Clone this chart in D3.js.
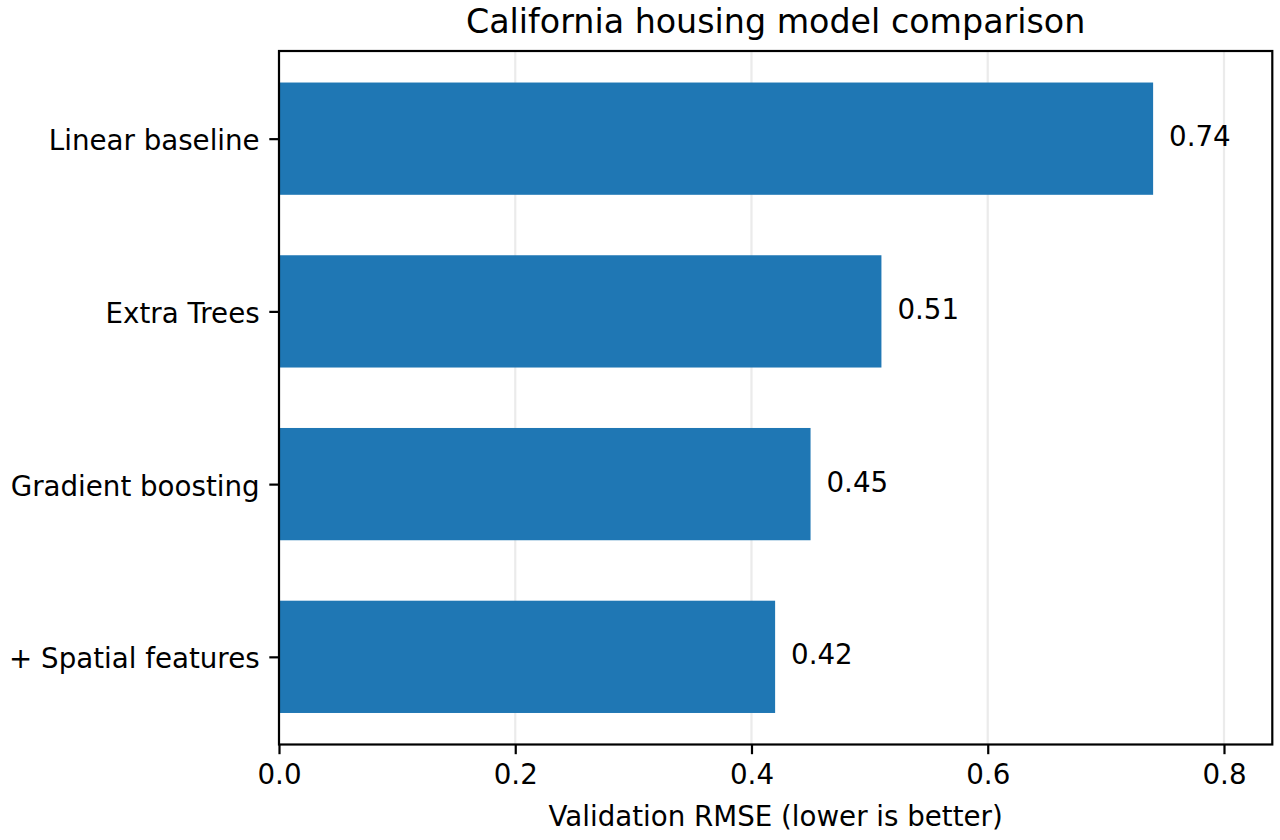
<!DOCTYPE html>
<html><head><meta charset="utf-8">
<script src="https://cdn.jsdelivr.net/npm/d3@7"></script>
<style>body{margin:0;background:#fff;} text{font-family:"DejaVu Sans",sans-serif;fill:#000;}</style>
</head><body>
<svg id="chart" width="1280" height="840"></svg>
<script>
const categories = ["Linear baseline","Extra Trees","Gradient boosting","+ Spatial features"];
const rmse = [0.74, 0.51, 0.45, 0.42];
const xTicks = [0.0, 0.2, 0.4, 0.6, 0.8];
const title = "California housing model comparison";
const xLabel = "Validation RMSE (lower is better)";

const W = 1280, H = 840;
const m = {left:279, top:51, right:1272.3, bottom:744.5};
const svg = d3.select("#chart");
const x = d3.scaleLinear().domain([0, 0.8409]).range([m.left, m.right]);
const barH = 0.65;
const y = d3.scaleLinear().domain([-0.5075, categories.length - 1 + 0.5075]).range([m.top, m.bottom]);

// grid
svg.append("g").selectAll("line").data(xTicks).join("line")
  .attr("x1", d=>x(d)).attr("x2", d=>x(d)).attr("y1", m.top).attr("y2", m.bottom)
  .attr("stroke", "#b0b0b0").attr("stroke-opacity", 0.25).attr("stroke-width", 2.2);

// bars
svg.append("g").selectAll("rect").data(rmse).join("rect")
  .attr("x", x(0)).attr("y", (d,i)=>y(i - barH/2))
  .attr("width", d=>x(d)-x(0)).attr("height", (d,i)=>y(i+barH/2)-y(i-barH/2))
  .attr("fill", "#1f77b4");

// value labels
svg.append("g").selectAll("text").data(rmse).join("text")
  .attr("x", d=>x(d + 0.0135)).attr("y", (d,i)=>y(i) - 2)
  .attr("dominant-baseline", "central")
  .attr("font-size", 27.7).text(d=>d.toFixed(2));

// x axis
const xAxis = d3.axisBottom(x).tickValues(xTicks).tickFormat(d3.format(".1f")).tickSize(9.7).tickPadding(9.7);
const gx = svg.append("g").attr("transform", `translate(0,${m.bottom})`).call(xAxis);
gx.select(".domain").remove();
gx.selectAll("line").attr("stroke", "#000").attr("stroke-width", 2.2);
gx.selectAll("text").attr("font-size", 27.7).attr("font-family", "DejaVu Sans").attr("fill", "#000");

// y axis
const yAxis = d3.axisLeft(y).tickValues(d3.range(categories.length)).tickFormat(i=>categories[i]).tickSize(9.7).tickPadding(9.7);
const gy = svg.append("g").attr("transform", `translate(${m.left},0)`).call(yAxis);
gy.select(".domain").remove();
gy.selectAll("line").attr("stroke", "#000").attr("stroke-width", 2.2);
gy.selectAll("text").attr("font-size", 27.7).attr("font-family", "DejaVu Sans").attr("fill", "#000")
  .attr("dy", null).attr("y", 11);

// frame
svg.append("rect").attr("x", m.left).attr("y", m.top).attr("width", m.right-m.left).attr("height", m.bottom-m.top)
  .attr("fill", "none").attr("stroke", "#000").attr("stroke-width", 2.2);

// title
svg.append("text").attr("x", (m.left+m.right)/2).attr("y", 33).attr("text-anchor", "middle")
  .attr("font-size", 33.3).text(title);

// x label
svg.append("text").attr("x", (m.left+m.right)/2).attr("y", 826).attr("text-anchor", "middle")
  .attr("font-size", 27.7).text(xLabel);
</script>
</body></html>
